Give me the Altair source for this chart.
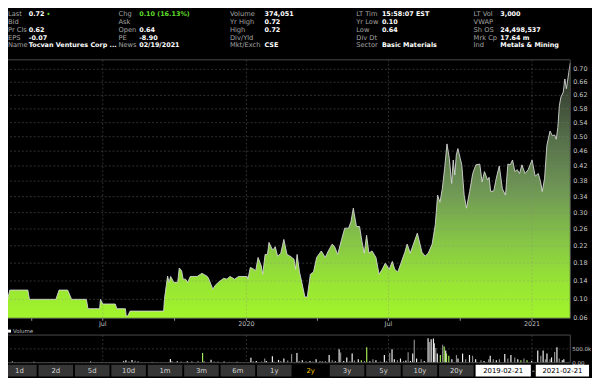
import altair as alt
import pandas as pd

# ---------------- data ----------------
price_dates = [
    "2019-03-01", "2019-03-04", "2019-03-27", "2019-03-29", "2019-05-02", "2019-05-06", "2019-05-17",
    "2019-05-22", "2019-06-10", "2019-06-12", "2019-06-27", "2019-06-28", "2019-07-01", "2019-07-17",
    "2019-07-19", "2019-07-30", "2019-07-31", "2019-08-02", "2019-08-05", "2019-09-17", "2019-09-18",
    "2019-09-22", "2019-09-24", "2019-09-26", "2019-09-30", "2019-10-05", "2019-10-07", "2019-10-10",
    "2019-10-12", "2019-10-15", "2019-10-18", "2019-10-21", "2019-10-30", "2019-11-05", "2019-11-12",
    "2019-11-14", "2019-11-19", "2019-11-22", "2019-11-26", "2019-12-03", "2019-12-07", "2019-12-11",
    "2019-12-17", "2019-12-22", "2020-01-02", "2020-01-03", "2020-01-06", "2020-01-09", "2020-01-13",
    "2020-01-16", "2020-01-20", "2020-01-22", "2020-01-25", "2020-01-28", "2020-01-30", "2020-02-03",
    "2020-02-05", "2020-02-07", "2020-02-10", "2020-02-14", "2020-02-18", "2020-02-22", "2020-02-26",
    "2020-03-02", "2020-03-04", "2020-03-06", "2020-03-09", "2020-03-12", "2020-03-16", "2020-03-19",
    "2020-03-23", "2020-03-27", "2020-03-31", "2020-04-06", "2020-04-11", "2020-04-15", "2020-04-20",
    "2020-04-23", "2020-04-27", "2020-05-02", "2020-05-06", "2020-05-11", "2020-05-14", "2020-05-17",
    "2020-05-21", "2020-05-25", "2020-05-28", "2020-05-31", "2020-06-03", "2020-06-06", "2020-06-10",
    "2020-06-15", "2020-06-19", "2020-06-23", "2020-06-27", "2020-07-02", "2020-07-06", "2020-07-09",
    "2020-07-13", "2020-07-17", "2020-07-22", "2020-07-25", "2020-07-29", "2020-08-02", "2020-08-07",
    "2020-08-13", "2020-08-17", "2020-08-21", "2020-08-26", "2020-08-30", "2020-09-02", "2020-09-05",
    "2020-09-08", "2020-09-11", "2020-09-14", "2020-09-17", "2020-09-20", "2020-09-22", "2020-09-24",
    "2020-09-26", "2020-09-28", "2020-10-01", "2020-10-03", "2020-10-06", "2020-10-09", "2020-10-13",
    "2020-10-17", "2020-10-21", "2020-10-26", "2020-10-29", "2020-11-01", "2020-11-05", "2020-11-07",
    "2020-11-09", "2020-11-13", "2020-11-16", "2020-11-20", "2020-11-24", "2020-11-28", "2020-12-01",
    "2020-12-04", "2020-12-07", "2020-12-10", "2020-12-13", "2020-12-16", "2020-12-19", "2020-12-23",
    "2020-12-27", "2021-01-01", "2021-01-05", "2021-01-09", "2021-01-12", "2021-01-14", "2021-01-17",
    "2021-01-20", "2021-01-24", "2021-01-27", "2021-01-30", "2021-02-01", "2021-02-03", "2021-02-05",
    "2021-02-07", "2021-02-10", "2021-02-11", "2021-02-12", "2021-02-14", "2021-02-15", "2021-02-17",
    "2021-02-19",
]
price_values = [
    0.10, 0.12, 0.12, 0.10, 0.10, 0.12, 0.12,
    0.10, 0.10, 0.08, 0.08, 0.10, 0.09, 0.09,
    0.08, 0.08, 0.065, 0.065, 0.075, 0.075, 0.10,
    0.151, 0.137, 0.15, 0.137, 0.137, 0.169, 0.163,
    0.144, 0.144, 0.137, 0.15, 0.15, 0.157, 0.15,
    0.144, 0.122, 0.13, 0.137, 0.146, 0.144, 0.15,
    0.144, 0.15, 0.15, 0.144, 0.17, 0.168, 0.163,
    0.193, 0.174, 0.155, 0.20, 0.20, 0.228, 0.212,
    0.212, 0.218, 0.196, 0.202, 0.235, 0.20, 0.196,
    0.189, 0.166, 0.20, 0.16, 0.137, 0.105, 0.105,
    0.155, 0.16, 0.193, 0.208, 0.193, 0.208, 0.224,
    0.218, 0.20, 0.235, 0.262, 0.262, 0.278, 0.311,
    0.266, 0.266, 0.231, 0.203, 0.245, 0.203, 0.208,
    0.193, 0.155, 0.166, 0.18, 0.166, 0.184, 0.166,
    0.16, 0.18, 0.205, 0.224, 0.203, 0.224, 0.25,
    0.205, 0.196, 0.203, 0.224, 0.27, 0.344, 0.326,
    0.36, 0.414, 0.48, 0.44, 0.374, 0.436, 0.396,
    0.45, 0.467, 0.44, 0.423, 0.344, 0.311, 0.353,
    0.40, 0.423, 0.425, 0.378, 0.405, 0.383, 0.39,
    0.353, 0.355, 0.386, 0.42, 0.36, 0.344, 0.425,
    0.423, 0.436, 0.405, 0.41, 0.40, 0.423, 0.40,
    0.41, 0.436, 0.393, 0.40, 0.378, 0.353, 0.386,
    0.476, 0.516, 0.503, 0.505, 0.493, 0.526, 0.59,
    0.615, 0.63, 0.65, 0.67, 0.64, 0.655, 0.69,
    0.72,
]

vol_dates = [
    "2019-03-01", "2019-03-29", "2019-04-17", "2019-04-24", "2019-06-11", "2019-06-26", "2019-07-24",
    "2019-07-27", "2019-07-31", "2019-08-04", "2019-08-08", "2019-08-12", "2019-08-30", "2019-09-23",
    "2019-09-25", "2019-10-02", "2019-10-07", "2019-10-15", "2019-10-21", "2019-10-29", "2019-11-04",
    "2019-11-06", "2019-11-15", "2019-11-19", "2019-11-24", "2019-12-02", "2019-12-09", "2019-12-19",
    "2020-01-06", "2020-01-09", "2020-01-13", "2020-01-20", "2020-01-24", "2020-01-26", "2020-02-03",
    "2020-02-05", "2020-02-11", "2020-02-14", "2020-02-18", "2020-02-23", "2020-02-28", "2020-03-06",
    "2020-03-09", "2020-03-13", "2020-03-18", "2020-03-23", "2020-03-27", "2020-03-31", "2020-04-05",
    "2020-04-08", "2020-04-12", "2020-04-17", "2020-04-21", "2020-04-25", "2020-04-30", "2020-05-02",
    "2020-05-06", "2020-05-10", "2020-05-14", "2020-05-17", "2020-05-20", "2020-05-25", "2020-05-29",
    "2020-06-02", "2020-06-05", "2020-06-09", "2020-06-13", "2020-06-17", "2020-06-23", "2020-06-28",
    "2020-07-01", "2020-07-05", "2020-07-08", "2020-07-11", "2020-07-15", "2020-07-19", "2020-07-23",
    "2020-07-26", "2020-07-29", "2020-08-01", "2020-08-04", "2020-08-06", "2020-08-09", "2020-08-15",
    "2020-08-19", "2020-08-24", "2020-08-26", "2020-08-28", "2020-08-31", "2020-09-01", "2020-09-03",
    "2020-09-05", "2020-09-09", "2020-09-12", "2020-09-14", "2020-09-16", "2020-09-17", "2020-09-20",
    "2020-09-24", "2020-09-30", "2020-10-02", "2020-10-08", "2020-10-12", "2020-10-17", "2020-10-21",
    "2020-10-25", "2020-11-01", "2020-11-05", "2020-11-11", "2020-11-13", "2020-11-17", "2020-11-21",
    "2020-11-25", "2020-12-02", "2020-12-06", "2020-12-10", "2020-12-15", "2020-12-19", "2020-12-23",
    "2020-12-27", "2020-12-31", "2021-01-06", "2021-01-14", "2021-01-18", "2021-01-21", "2021-01-24",
    "2021-01-26", "2021-01-30", "2021-02-01", "2021-02-05", "2021-02-08", "2021-02-11", "2021-02-15",
    "2021-02-17",
]
vol_values = [
    40000, 30000, 20000, 25000, 40000, 20000, 50000,
    90000, 40000, 100000, 70000, 40000, 30000, 130000,
    60000, 50000, 40000, 50000, 40000, 60000, 350000,
    40000, 110000, 40000, 30000, 40000, 30000, 30000,
    180000, 50000, 60000, 40000, 150000, 60000, 230000,
    40000, 100000, 60000, 150000, 80000, 310000, 350000,
    60000, 90000, 50000, 60000, 40000, 120000, 60000,
    40000, 60000, 280000, 90000, 50000, 490000, 370000,
    60000, 190000, 50000, 330000, 80000, 120000, 90000,
    60000, 560000, 50000, 120000, 90000, 40000, 280000,
    60000, 350000, 490000, 120000, 90000, 150000, 60000,
    80000, 380000, 60000, 330000, 830000, 150000, 120000,
    60000, 885000, 750000, 850000, 875000, 700000, 530000,
    330000, 280000, 650000, 590000, 440000, 330000, 250000,
    120000, 280000, 150000, 330000, 120000, 280000, 250000,
    120000, 90000, 60000, 120000, 250000, 120000, 90000,
    120000, 310000, 150000, 280000, 190000, 120000, 90000,
    150000, 90000, 60000, 440000, 250000, 440000, 120000,
    330000, 120000, 190000, 385000, 560000, 150000, 90000,
    120000,
]
vol_kinds = [
    "u", "u", "d", "u", "u", "d", "u",
    "u", "d", "u", "d", "u", "d", "u",
    "d", "u", "d", "u", "u", "d", "h",
    "u", "u", "d", "u", "u", "d", "u",
    "u", "d", "u", "d", "d", "u", "u",
    "d", "u", "d", "u", "d", "d", "u",
    "d", "u", "d", "u", "d", "u", "d",
    "u", "d", "u", "d", "u", "u", "d",
    "u", "u", "d", "u", "d", "u", "h",
    "d", "h", "u", "d", "u", "d", "u",
    "d", "d", "u", "u", "d", "u", "d",
    "u", "d", "u", "u", "d", "u", "d",
    "u", "u", "d", "u", "u", "u", "d",
    "u", "h", "d", "h", "u", "h", "h",
    "u", "d", "u", "u", "d", "u", "d",
    "u", "d", "u", "d", "u", "d", "u",
    "d", "u", "d", "u", "d", "u", "h",
    "d", "h", "u", "u", "d", "u", "d",
    "u", "d", "u", "d", "u", "d", "u",
    "u",
]

price_ticks = [0.06, 0.10, 0.14, 0.18, 0.22, 0.26, 0.30, 0.34, 0.38,
               0.42, 0.46, 0.50, 0.54, 0.58, 0.62, 0.66, 0.70]
vol_ticks = [0, 500000]
vol_tick_labels = ["0.00", "500.0k"]
x_label_dates = ["2019-07-01", "2020-01-01", "2020-07-01", "2021-01-01"]
x_label_text = ["Jul", "2020", "Jul", "2021"]
x_minor_dates = ["2019-04-01", "2019-07-01", "2019-10-01", "2020-01-01",
                 "2020-04-01", "2020-07-01", "2020-10-01", "2021-01-01"]

hdr_labels = [
    ["Last", "Bid", "Pr Cls", "EPS", "Name"],
    ["Chg", "Ask", "Open", "PE", "News"],
    ["Volume", "Yr High", "High", "Div/Yld", "Mkt/Exch"],
    ["LT Tim", "Yr Low", "Low", "Div Dt", "Sector"],
    ["LT Vol", "VWAP", "Sh OS", "Mrk Cp", "Ind"],
]
hdr_values = [
    ["0.72", "", "0.62", "-0.07", "Tocvan Ventures Corp ..."],
    ["0.10 (16.13%)", "", "0.64", "-8.90", "02/19/2021"],
    ["374,051", "0.72", "0.72", "", "CSE"],
    ["15:58:07 EST", "0.10", "0.64", "", "Basic Materials"],
    ["3,000", "", "24,498,537", "17.64 m", "Metals & Mining"],
]
buttons = ["1d", "2d", "5d", "10d", "1m", "3m", "6m", "1y", "2y", "3y", "5y", "10y", "20y"]
selected_button = "2y"
date_from = "2019-02-21"
date_to = "2021-02-21"

# ---------------- layout / style ----------------
FONT = "DejaVu Sans"
X0, X1 = -6, 570          # plot left / right (chart px)
PY_TOP, PY_BOT = 50, 312  # price panel
VY_TOP, VY_BOT = 329, 357 # volume panel
LAB_X = [0, 112, 225, 353, 472]
VAL_X = [21, 133, 260, 379, 499]
GRID = dict(color="#8a8a8a", strokeDash=[2, 2], strokeWidth=0.7, opacity=0.5)

one = pd.DataFrame({"k": [0]})

x_scale = alt.Scale(
    domain=[alt.DateTime(year=2019, month=2, date=22, utc=True),
            alt.DateTime(year=2021, month=2, date=19, utc=True)],
    range=[X0, X1], nice=False)
y_price = alt.Scale(type="symlog", constant=1.2, domain=[0.06, 0.73],
                    range=[PY_BOT, PY_TOP], nice=False)
y_vol = alt.Scale(domain=[0, 1000000], range=[VY_BOT, VY_TOP], nice=False)

price_df = pd.DataFrame({"date": price_dates, "price": price_values})
vol_df = pd.DataFrame({"date": vol_dates, "vol": vol_values, "kind": vol_kinds})
ptick_df = pd.DataFrame({"v": price_ticks})
vtick_df = pd.DataFrame({"v": vol_ticks, "t": vol_tick_labels})
xl_df = pd.DataFrame({"d": x_label_dates, "t": x_label_text})
xm_df = pd.DataFrame({"d": x_minor_dates})

rows = []
for c in range(5):
    for r in range(5):
        rows.append({"col": c, "row": r, "label": hdr_labels[c][r], "value": hdr_values[c][r]})
hdr_df = pd.DataFrame(rows)

layers = []

# header
row_y = alt.Y("row:O", scale=alt.Scale(type="point", domain=[0, 1, 2, 3, 4],
                                       range=[3.5, 35.5], padding=0), axis=None)
for c in range(5):
    layers.append(
        alt.Chart(hdr_df).transform_filter(alt.datum.col == c)
        .mark_text(align="left", baseline="middle", font=FONT, fontSize=6.8, color="#a4a4a4")
        .encode(x=alt.value(LAB_X[c]), y=row_y, text="label:N"))
    layers.append(
        alt.Chart(hdr_df).transform_filter(alt.datum.col == c)
        .mark_text(align="left", baseline="middle", font=FONT, fontSize=6.5, fontWeight="bold")
        .encode(x=alt.value(VAL_X[c]), y=row_y, text="value:N",
                color=alt.condition("datum.label == 'Chg'", alt.value("#5fdc2a"), alt.value("#ffffff"))))
layers.append(alt.Chart(one).mark_point(filled=True, size=5, color="#5fdc2a", opacity=1)
              .encode(x=alt.value(41), y=alt.value(3.5)))

# price panel
area_fill = alt.Gradient(
    gradient="linear", x1=0, x2=0, y1=1, y2=0,
    stops=[alt.GradientStop(offset=0, color="#a2f52b"),
           alt.GradientStop(offset=0.15, color="#97e335"),
           alt.GradientStop(offset=0.3, color="#86c646"),
           alt.GradientStop(offset=0.5, color="#6f9755"),
           alt.GradientStop(offset=0.7, color="#56704a"),
           alt.GradientStop(offset=0.88, color="#3a4634"),
           alt.GradientStop(offset=1, color="#23271f")])
px = alt.X("date:T", scale=x_scale, axis=None)
layers.append(alt.Chart(price_df).mark_area(color=area_fill)
              .encode(x=px, y=alt.Y("price:Q", scale=y_price, axis=None), y2=alt.datum(0.06)))
layers.append(alt.Chart(price_df).mark_line(color="#d8d8d8", strokeWidth=0.9)
              .encode(x=px, y=alt.Y("price:Q", scale=y_price, axis=None)))
layers.append(alt.Chart(ptick_df).mark_rule(**GRID)
              .encode(y=alt.Y("v:Q", scale=y_price, axis=None), x=alt.value(X0), x2=alt.value(X1)))
layers.append(alt.Chart(xl_df).mark_rule(**GRID)
              .encode(x=alt.X("d:T", scale=x_scale, axis=None), y=alt.value(PY_TOP), y2=alt.value(PY_BOT)))
layers.append(alt.Chart(one).mark_rect(fillOpacity=0, stroke="#4a4a4a", strokeWidth=1)
              .encode(x=alt.value(X0), x2=alt.value(X1), y=alt.value(PY_TOP), y2=alt.value(PY_BOT)))
layers.append(alt.Chart(ptick_df).mark_text(align="left", baseline="middle", font=FONT,
                                            fontSize=6.5, color="#c6c6c6")
              .encode(y=alt.Y("v:Q", scale=y_price, axis=None), x=alt.value(573),
                      text=alt.Text("v:Q", format=".2f")))
layers.append(alt.Chart(xm_df).mark_rule(color="#9a9a9a", strokeWidth=1)
              .encode(x=alt.X("d:T", scale=x_scale, axis=None), y=alt.value(PY_BOT), y2=alt.value(PY_BOT + 2.5)))
layers.append(alt.Chart(xl_df).mark_text(align="center", baseline="middle", font=FONT,
                                         fontSize=6.5, color="#bdbdbd")
              .encode(x=alt.X("d:T", scale=x_scale, axis=None), y=alt.value(PY_BOT + 6), text="t:N"))

# volume panel
layers.append(alt.Chart(one).mark_rect(color="#ffffff")
              .encode(x=alt.value(0), x2=alt.value(3), y=alt.value(323.5), y2=alt.value(326.5)))
layers.append(alt.Chart(one).mark_text(text="Volume", align="left", baseline="middle", font=FONT,
                                       fontSize=5.5, color="#bdbdbd")
              .encode(x=alt.value(5), y=alt.value(325)))
layers.append(alt.Chart(vtick_df).mark_rule(**GRID)
              .encode(y=alt.Y("v:Q", scale=y_vol, axis=None), x=alt.value(X0), x2=alt.value(X1)))
layers.append(alt.Chart(xl_df).mark_rule(**GRID)
              .encode(x=alt.X("d:T", scale=x_scale, axis=None), y=alt.value(VY_TOP), y2=alt.value(VY_BOT)))
layers.append(alt.Chart(vol_df).mark_bar(width=1.2)
              .encode(x=px, y=alt.Y("vol:Q", scale=y_vol, axis=None),
                      color=alt.Color("kind:N", scale=alt.Scale(domain=["u", "d", "h"],
                                      range=["#efefef", "#8a8a8a", "#a6ea5a"]), legend=None)))
layers.append(alt.Chart(one).mark_rect(fillOpacity=0, stroke="#4a4a4a", strokeWidth=1)
              .encode(x=alt.value(X0), x2=alt.value(X1), y=alt.value(VY_TOP), y2=alt.value(VY_BOT)))
layers.append(alt.Chart(vtick_df).mark_text(align="left", baseline="middle", font=FONT,
                                            fontSize=5.6, color="#c6c6c6")
              .encode(y=alt.Y("v:Q", scale=y_vol, axis=None), x=alt.value(572), text="t:N"))

# range buttons
btn_df = pd.DataFrame({"b": buttons})
bx = alt.X("b:N", sort=buttons, axis=None,
           scale=alt.Scale(type="band", domain=buttons, range=[X0, 472], paddingInner=0.05, paddingOuter=0))
sel = f"datum.b == '{selected_button}'"
layers.append(alt.Chart(btn_df).mark_rect()
              .encode(x=bx, y=alt.value(359), y2=alt.value(371),
                      color=alt.condition(sel, alt.value("#000000"), alt.value("#363636"))))
layers.append(alt.Chart(btn_df).mark_text(baseline="middle", align="center", font=FONT, fontSize=7)
              .encode(x=bx, y=alt.value(365),
                      text="b:N",
                      color=alt.condition(sel, alt.value("#f2c200"), alt.value("#d4d4d4"))))
layers.append(alt.Chart(one).mark_rect(color="#ffffff")
              .encode(x=alt.value(474), x2=alt.value(530), y=alt.value(359), y2=alt.value(371)))
layers.append(alt.Chart(one).mark_rect(color="#ffffff")
              .encode(x=alt.value(535), x2=alt.value(589), y=alt.value(359), y2=alt.value(371)))
layers.append(alt.Chart(one).mark_text(text=date_from, align="center", baseline="middle", font=FONT,
                                       fontSize=7, color="#000000")
              .encode(x=alt.value(502), y=alt.value(365)))
layers.append(alt.Chart(one).mark_text(text=date_to, align="center", baseline="middle", font=FONT,
                                       fontSize=7, color="#000000")
              .encode(x=alt.value(562), y=alt.value(365)))
layers.append(alt.Chart(one).mark_text(text="-", align="center", baseline="middle", font=FONT,
                                       fontSize=7, color="#ffffff")
              .encode(x=alt.value(532.5), y=alt.value(365)))

chart = (
    alt.layer(*layers)
    .resolve_scale(x="independent", y="independent", color="independent")
    .properties(width=592, height=370, autosize=alt.AutoSizeParams(type="none"),
                padding=0, background="black")
    .configure_view(strokeWidth=0)
)

chart.save("out.html", embed_options={"renderer": "svg", "actions": False})
